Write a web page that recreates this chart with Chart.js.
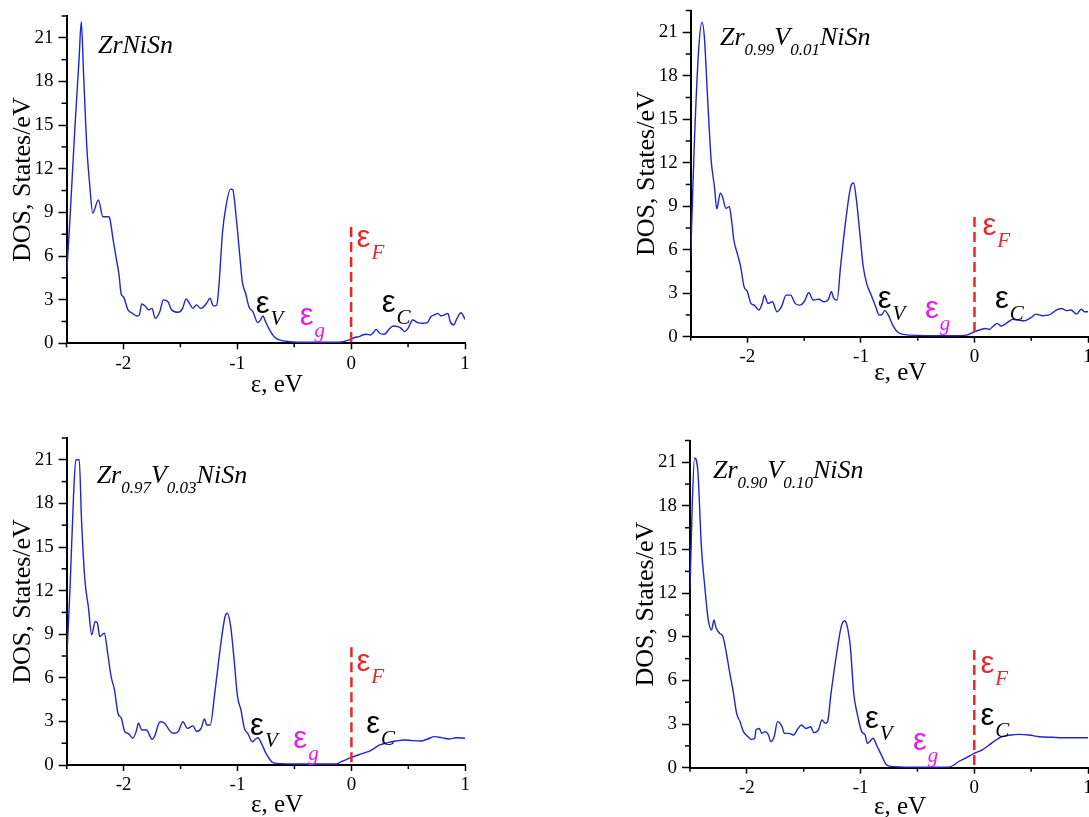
<!DOCTYPE html>
<html><head><meta charset="utf-8">
<script src="https://cdn.jsdelivr.net/npm/chart.js@4.4.0/dist/chart.umd.min.js"></script>
<style>
html,body{margin:0;padding:0;background:#fff;}
#wrap{position:relative;width:1089px;height:817px;overflow:hidden;background:#fff;}
canvas{position:absolute;}
</style></head><body><div id="wrap">
<canvas id="c1"></canvas><canvas id="c2"></canvas><canvas id="c3"></canvas><canvas id="c4"></canvas>
</div>
<script>
// ---- data (energy in eV, DOS in states/eV) ----
const e1 = [-2.5,-2.47,-2.43,-2.39,-2.37,-2.35,-2.32,-2.295,-2.27,-2.22,-2.18,-2.13,-2.12,-2.09,-2.06,-2.04,-2.02,-2.0,-1.96,-1.92,-1.88,-1.86,-1.84,-1.81,-1.78,-1.75,-1.72,-1.68,-1.65,-1.61,-1.58,-1.52,-1.48,-1.45,-1.42,-1.39,-1.36,-1.32,-1.27,-1.24,-1.21,-1.18,-1.16,-1.13,-1.1,-1.06,-1.04,-1.01,-0.98,-0.956,-0.927,-0.898,-0.863,-0.82,-0.8,-0.775,-0.752,-0.716,-0.672,-0.63,-0.54,-0.39,-0.16,-0.07,0,0.03,0.07,0.1,0.13,0.17,0.19,0.22,0.25,0.29,0.34,0.37,0.41,0.44,0.47,0.5,0.54,0.585,0.63,0.67,0.7,0.73,0.76,0.79,0.82,0.85,0.87,0.9,0.93,0.965,1.0];
const dos1 = [4.6,8.5,14.3,19.5,22.1,18.5,13.3,10.8,8.95,9.86,8.7,8.7,8.6,7.1,5.7,4.8,3.4,3.2,2.3,2.06,1.88,1.95,2.7,2.57,2.3,2.4,1.72,2.18,2.98,2.87,2.34,2.13,2.4,3.05,2.75,2.4,2.64,2.4,2.75,3.1,2.57,2.64,4.1,7.6,9.4,10.6,10.55,8.7,6.2,4.24,3.44,2.52,2.18,1.42,1.56,1.88,1.49,0.92,0.41,0.23,0.11,0.07,0.07,0.11,0.28,0.4,0.46,0.57,0.62,0.57,0.69,0.96,0.69,0.62,1.03,1.19,1.15,1.03,0.8,1.03,1.6,1.42,1.38,1.42,1.83,1.95,2.06,1.88,1.95,2.06,1.49,1.26,1.72,2.1,1.65];

const e2 = [-2.5,-2.47,-2.43,-2.4,-2.38,-2.35,-2.32,-2.29,-2.27,-2.24,-2.22,-2.19,-2.16,-2.14,-2.12,-2.09,-2.06,-2.03,-2.0,-1.97,-1.94,-1.9,-1.87,-1.85,-1.82,-1.78,-1.74,-1.7,-1.66,-1.62,-1.58,-1.54,-1.5,-1.46,-1.42,-1.37,-1.33,-1.29,-1.26,-1.24,-1.21,-1.18,-1.13,-1.09,-1.065,-1.04,-1.01,-0.98,-0.95,-0.91,-0.87,-0.84,-0.82,-0.79,-0.76,-0.72,-0.68,-0.63,-0.49,-0.19,-0.07,0,0.044,0.1,0.13,0.16,0.2,0.235,0.28,0.34,0.38,0.44,0.5,0.54,0.6,0.66,0.72,0.765,0.81,0.85,0.9,0.94,0.97,1.0];
const dos2 = [5.5,12.9,19.8,21.7,20.7,16.3,12.2,10.3,8.8,9.9,9.65,8.85,8.97,8.05,6.67,5.75,4.83,3.45,3.1,2.3,2.18,1.84,2.3,2.87,2.3,2.41,1.72,2.07,2.87,2.87,2.3,2.18,2.41,3.03,2.53,2.58,2.41,2.53,3.1,2.64,2.53,4.83,8.28,10.35,10.6,9.43,7.13,4.83,3.68,2.87,2.07,1.5,1.5,1.8,1.5,0.8,0.34,0.16,0.09,0.07,0.11,0.34,0.46,0.57,0.5,0.69,0.92,0.73,0.92,1.2,1.15,1.1,1.33,1.56,1.45,1.5,1.84,1.95,1.8,1.84,1.56,1.89,1.72,1.72];

const e3 = [-2.5,-2.47,-2.44,-2.42,-2.39,-2.37,-2.34,-2.31,-2.28,-2.25,-2.23,-2.21,-2.17,-2.14,-2.11,-2.08,-2.05,-2.02,-1.99,-1.96,-1.92,-1.89,-1.87,-1.84,-1.8,-1.75,-1.73,-1.68,-1.64,-1.59,-1.56,-1.52,-1.48,-1.44,-1.39,-1.36,-1.32,-1.29,-1.27,-1.24,-1.2,-1.15,-1.11,-1.09,-1.06,-1.03,-1.0,-0.97,-0.94,-0.91,-0.87,-0.85,-0.82,-0.79,-0.75,-0.7,-0.66,-0.45,-0.13,-0.09,-0.04,0,0.06,0.12,0.16,0.2,0.25,0.32,0.39,0.47,0.53,0.61,0.67,0.73,0.79,0.86,0.92,1.0];
const dos3 = [7.2,12.3,18.5,21.0,21.0,16.9,12.7,10.9,8.95,9.87,9.75,8.84,9.07,7.69,6.08,5.16,3.56,3.21,2.3,2.18,1.84,2.3,2.87,2.41,2.41,1.77,1.95,2.98,2.87,2.3,2.18,2.3,2.98,2.52,2.69,2.3,2.52,3.17,2.75,2.75,4.93,8.15,10.2,10.44,9.52,7.23,4.7,3.79,2.52,2.18,1.6,1.72,1.88,1.49,0.8,0.23,0.11,0.07,0.07,0.23,0.39,0.53,0.69,0.85,0.96,1.15,1.38,1.54,1.65,1.72,1.68,1.65,1.79,1.95,1.88,1.79,1.88,1.84];

const e4 = [-2.5,-2.48,-2.46,-2.43,-2.4,-2.37,-2.34,-2.31,-2.29,-2.27,-2.24,-2.21,-2.18,-2.15,-2.12,-2.09,-2.06,-2.03,-1.99,-1.96,-1.93,-1.92,-1.89,-1.87,-1.84,-1.81,-1.79,-1.76,-1.73,-1.69,-1.67,-1.63,-1.59,-1.55,-1.52,-1.48,-1.44,-1.41,-1.37,-1.34,-1.31,-1.29,-1.26,-1.21,-1.17,-1.14,-1.12,-1.09,-1.06,-1.03,-0.99,-0.96,-0.94,-0.92,-0.89,-0.86,-0.81,-0.77,-0.7,-0.49,-0.23,-0.18,-0.14,-0.08,0,0.07,0.13,0.19,0.24,0.32,0.39,0.48,0.57,0.69,0.83,1.0];
const dos4 = [12.2,18.2,21.3,20.3,15.2,12.45,10.2,9.47,10.16,9.6,9.24,9.0,7.87,6.5,5.23,3.74,3.17,2.48,2.13,1.95,2.02,2.6,2.7,2.36,2.48,2.25,1.79,2.13,3.17,2.82,2.36,2.36,2.25,2.7,2.94,2.7,2.82,2.41,2.6,3.28,3.05,3.17,5.1,7.87,9.7,10.1,9.8,8.33,5.1,3.74,2.48,2.25,1.67,1.79,2.02,1.56,0.76,0.18,0.07,0.03,0.03,0.18,0.41,0.64,0.99,1.22,1.56,1.9,2.13,2.25,2.29,2.25,2.13,2.09,2.06,2.06];

const fermiLevel = 0;
const fermiMarkTop = [8.0, 8.25, 8.1, 8.1];

const xMajorTicks = [-2, -1, 0, 1];
const xMinorTicks = [-2.5, -1.5, -0.5, 0.5];
const yMajorTicks = [0, 3, 6, 9, 12, 15, 18, 21];
const yMinorTicks = [1.5, 4.5, 7.5, 10.5, 13.5, 16.5, 19.5, 22.5];

const compoundNames = [
  [{t:'ZrNiSn'}],
  [{t:'Zr'},{t:'0.99',s:1},{t:'V'},{t:'0.01',s:1},{t:'NiSn'}],
  [{t:'Zr'},{t:'0.97',s:1},{t:'V'},{t:'0.03',s:1},{t:'NiSn'}],
  [{t:'Zr'},{t:'0.90',s:1},{t:'V'},{t:'0.10',s:1},{t:'NiSn'}]
];

// ---- layout / styles ----
const SERIF = '"Liberation Serif","Times New Roman",serif';
const SANS = '"Liberation Sans",Arial,sans-serif';
const MAGENTA = '#e41ee4', RED = '#e42a2a', BLUE = '#2323cf';

const panels = [
  {id:'c1', left:0,   top:0,   w:544, h:408, L:66.5,  R:465,   T:16,    B:343.3, titleDy:42,
   name:{x:-2.224, y:19.98},
   notes:[{s:'V',x:-0.838,y:2.06,c:'#000'},{s:'g',x:-0.452,y:1.24,c:MAGENTA},{s:'F',x:0.048,y:6.6,c:RED},{s:'C',x:0.268,y:2.13,c:'#000'}]},
  {id:'c2', left:544, top:0,   w:545, h:408, L:690.7, R:1088,  T:10.5,  B:336.7, titleDy:37,
   name:{x:-2.242, y:20.1},
   notes:[{s:'V',x:-0.853,y:1.98,c:'#000'},{s:'g',x:-0.437,y:1.29,c:MAGENTA},{s:'F',x:0.07,y:7.0,c:RED},{s:'C',x:0.18,y:1.98,c:'#000'}]},
  {id:'c3', left:0,   top:408, w:544, h:409, L:66.7,  R:465.3, T:438,   B:765,   titleDy:40,
   name:{x:-2.237, y:19.4},
   notes:[{s:'V',x:-0.89,y:2.07,c:'#000'},{s:'g',x:-0.51,y:1.17,c:MAGENTA},{s:'F',x:0.045,y:6.5,c:RED},{s:'C',x:0.13,y:2.2,c:'#000'}]},
  {id:'c4', left:544, top:408, w:545, h:409, L:690,   R:1088,  T:440.5, B:767.7, titleDy:40,
   name:{x:-2.298, y:19.9},
   notes:[{s:'V',x:-0.961,y:2.73,c:'#000'},{s:'g',x:-0.54,y:1.22,c:MAGENTA},{s:'F',x:0.055,y:6.5,c:RED},{s:'C',x:0.055,y:2.94,c:'#000'}]}
];
const series = [[e1,dos1],[e2,dos2],[e3,dos3],[e4,dos4]];
const Y_AXIS_W = 66, X_AXIS_H = 45;

const notesPlugin = {
  id: 'dosNotes',
  afterDatasetsDraw(chart, args, o) {
    const ctx = chart.ctx, xs = chart.scales.x, ys = chart.scales.y, a = chart.chartArea;
    ctx.save();
    // minor ticks
    ctx.strokeStyle = '#000'; ctx.lineWidth = 1.5;
    xMinorTicks.forEach(v => { const p = xs.getPixelForValue(v); ctx.beginPath(); ctx.moveTo(p, a.bottom); ctx.lineTo(p, a.bottom + 4); ctx.stroke(); });
    yMinorTicks.forEach(v => { const p = ys.getPixelForValue(v); ctx.beginPath(); ctx.moveTo(a.left, p); ctx.lineTo(a.left - 5, p); ctx.stroke(); });
    // epsilon labels
    ctx.textBaseline = 'alphabetic'; ctx.textAlign = 'left';
    o.notes.forEach(n => {
      const px = xs.getPixelForValue(n.x), py = ys.getPixelForValue(n.y);
      ctx.fillStyle = n.c;
      ctx.font = '31px ' + SANS;
      ctx.fillText('ε', px, py);
      const w = ctx.measureText('ε').width;
      ctx.font = 'italic 21px ' + SERIF;
      ctx.fillText(n.s, px + w + 1, py + 12);
    });
    // compound name
    let cx = xs.getPixelForValue(o.name.x); const cy = ys.getPixelForValue(o.name.y);
    ctx.fillStyle = '#000';
    o.parts.forEach(p => {
      ctx.font = p.s ? ('italic 17px ' + SERIF) : ('italic 26px ' + SERIF);
      ctx.fillText(p.t, cx, cy + (p.s ? 10 : 0));
      cx += ctx.measureText(p.t).width;
    });
    // x axis title
    ctx.font = '25px ' + SERIF; ctx.textAlign = 'center'; ctx.textBaseline = 'middle';
    ctx.fillText('ε, eV', (a.left + a.right) / 2 + 11, a.bottom + o.titleDy);
    ctx.restore();
  }
};

panels.forEach((P, i) => {
  const cv = document.getElementById(P.id);
  cv.width = P.w; cv.height = P.h;
  cv.style.left = P.left + 'px'; cv.style.top = P.top + 'px';
  cv.style.width = P.w + 'px'; cv.style.height = P.h + 'px';
  const [ex, dy] = series[i];
  const pts = ex.map((x, k) => ({x: x, y: dy[k]}));
  new Chart(cv, {
    type: 'scatter',
    data: { datasets: [
      { data: [{x: fermiLevel, y: fermiMarkTop[i]}, {x: fermiLevel, y: 0}], showLine: true, borderColor: RED,
        borderWidth: 2.5, borderDash: [10, 5], pointRadius: 0, fill: false },
      { data: pts, showLine: true, borderColor: BLUE, borderWidth: 1.4, pointRadius: 0, fill: false,
        cubicInterpolationMode: 'monotone' }
    ]},
    options: {
      responsive: false, animation: false, devicePixelRatio: 1, events: [],
      layout: { padding: { left: P.L - P.left - Y_AXIS_W, right: P.left + P.w - P.R, top: P.T - P.top,
                           bottom: P.top + P.h - P.B - X_AXIS_H } },
      plugins: { legend: {display: false}, tooltip: {enabled: false},
                 dosNotes: { notes: P.notes, parts: compoundNames[i], name: P.name, titleDy: P.titleDy } },
      scales: {
        x: { type: 'linear', min: -2.5, max: 1,
             afterBuildTicks: s => { s.ticks = xMajorTicks.map(v => ({value: v})); },
             afterFit: s => { s.height = X_AXIS_H; s.paddingLeft = 0; s.paddingRight = 0; },
             ticks: { font: {family: SERIF, size: 19}, color: '#000', padding: 3, autoSkip: false, maxRotation: 0,
                      callback: v => String(v) },
             grid: { drawOnChartArea: false, drawTicks: true, tickLength: 6, tickColor: '#000', tickWidth: 1.5 },
             border: { display: true, color: '#000', width: 2 } },
        y: { type: 'linear', min: 0, max: 22.5,
             afterBuildTicks: s => { s.ticks = yMajorTicks.map(v => ({value: v})); },
             afterFit: s => { s.width = Y_AXIS_W; s.paddingTop = 0; s.paddingBottom = 0; },
             ticks: { font: {family: SERIF, size: 19}, color: '#000', padding: 5, autoSkip: false,
                      callback: v => String(v) },
             grid: { drawOnChartArea: false, drawTicks: true, tickLength: 8, tickColor: '#000', tickWidth: 1.5 },
             border: { display: true, color: '#000', width: 2 },
             title: { display: true, text: 'DOS, States/eV', color: '#000', font: {family: SERIF, size: 26},
                      padding: {top: 7, bottom: 0} } }
      }
    },
    plugins: [notesPlugin]
  });
});
</script></body></html>
